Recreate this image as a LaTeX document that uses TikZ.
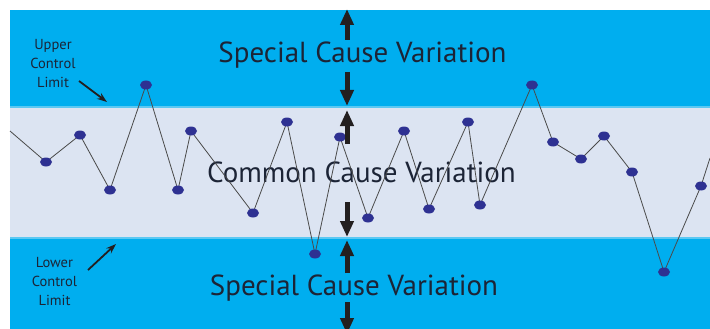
\documentclass[tikz,border=0pt]{standalone}
\usepackage{fontspec}
\setmainfont{PT Sans}
\usetikzlibrary{arrows.meta,shapes.geometric}
\definecolor{bandblue}{HTML}{00AEEF}
\definecolor{bandlight}{HTML}{DCE4F2}
\definecolor{edgeblue}{HTML}{5CC8F2}
\definecolor{dotblue}{HTML}{2E3192}
\definecolor{inkdark}{HTML}{1C2436}
\definecolor{arrowink}{HTML}{231F20}
\definecolor{trace}{HTML}{4A4A4A}
\tikzset{
  sample/.style={ellipse, fill=dotblue, minimum width=12pt, minimum height=9pt, inner sep=0pt},
  trend/.style={trace, line width=0.8pt},
  bigarrow/.style={arrowink, line width=5pt, -{Triangle[width=13pt,length=16pt]}},
  limitarrow/.style={arrowink, line width=1.8pt, -{Stealth[width=7pt,length=10pt]}},
  bandtext/.style={text=inkdark, font=\fontsize{29}{30}\selectfont, anchor=base, inner sep=0pt},
  limittext/.style={text=inkdark, font=\fontsize{14.5}{19}\selectfont, align=center, inner sep=0pt},
}
\begin{document}
\begin{tikzpicture}[x=1pt, y=-1pt]
  \useasboundingbox (0,0) rectangle (710,329);
  \fill[white] (0,0) rectangle (710,329);
  % bands
  \fill[bandblue] (10,10) rectangle (710,106);
  \fill[bandlight] (10,106) rectangle (710,238);
  \fill[bandblue] (10,238) rectangle (710,329);
  \draw[edgeblue, line width=2pt] (10,107) -- (710,107);
  \draw[edgeblue, line width=2pt] (10,238) -- (710,238);

  % band labels
  \node[bandtext] (topt) at (362.5,63) {Special Cause Variation};
  \node[bandtext] (midt) at (361.5,182) {Common Cause Variation};
  \node[bandtext] (bott) at (354,295) {Special Cause Variation};

  % limit labels
  \node[limittext] (ucl) at (53,64) {Upper\\Control\\Limit};
  \node[limittext] (lcl) at (54.5,282) {Lower\\Control\\Limit};
  \coordinate (uclA) at (79,81);
  \coordinate (uclB) at (107,102);
  \coordinate (lclA) at (88,270);
  \coordinate (lclB) at (116,244);
  \draw[limitarrow] (uclA) -- (uclB);
  \draw[limitarrow] (lclA) -- (lclB);

  % sample trace
  \coordinate (s0) at (10,131);
  \coordinate (s23) at (710,158);
  \foreach \i/\px/\py in {1/46/162, 2/80/135, 3/110/190, 4/146/85, 5/178/190,
      6/191/131, 7/253/213, 8/287/122, 9/315/254, 10/340/137, 11/368/218,
      12/404/131, 13/429/209, 14/468/122, 15/480/205, 16/532/85, 17/553/142,
      18/581/159, 19/604/136, 20/632/172, 21/664/272, 22/701/186}
    \coordinate (s\i) at (\px,\py);
  \draw[trend] (s0) \foreach \i in {1,...,22} { -- (s\i) } -- (s23);
  \foreach \i in {1,...,22}
    \node[sample] (p\i) at (s\i) {};

  % arrows across the limits
  \coordinate (a1s) at (347,40);  \coordinate (a1t) at (347,9);
  \coordinate (a2s) at (347,72);  \coordinate (a2t) at (347,106);
  \coordinate (a3s) at (347,144); \coordinate (a3t) at (347,110);
  \coordinate (a4s) at (347,202); \coordinate (a4t) at (347,237);
  \coordinate (a5s) at (347,273); \coordinate (a5t) at (347,240);
  \coordinate (a6s) at (347,302); \coordinate (a6t) at (347,334);
  \foreach \k in {1,...,6}
    \draw[bigarrow] (a\k s) -- (a\k t);
\end{tikzpicture}
\end{document}
